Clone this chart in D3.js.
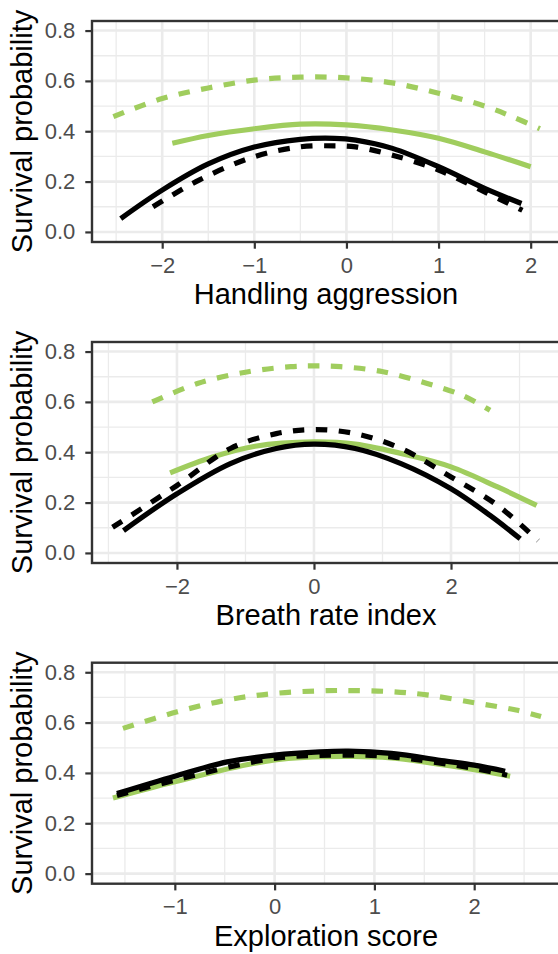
<!DOCTYPE html>
<html>
<head>
<meta charset="utf-8">
<script src="https://cdn.jsdelivr.net/npm/d3@7"></script>
<style>
body { margin: 0; background: #fff; overflow: hidden; }
svg { display: block; }
</style>
</head>
<body>
<div id="chart"></div>
<script>
const width = 558
const height = 954
const panelLeft = 92
const panelRight = 562
const panelTops = [21, 342, 662.7]
const panelHeight = 221

const green = "#a0cd5e"
const fontFamily = "'Liberation Sans', Arial, sans-serif"

const titles = ["Handling aggression", "Breath rate index", "Exploration score"]
const xLimits = [[-2.762, 2.34], [-3.24, 3.62], [-1.83, 2.88]]
const xTicks = [[-2, -1, 0, 1, 2], [-2, 0, 2], [-1, 0, 1, 2]]
const xMinor = [[-2.5, -1.5, -0.5, 0.5, 1.5], [-3, -1, 1, 3], [-1.5, -0.5, 0.5, 1.5, 2.5]]
const yLimits = [-0.04, 0.838]
const yTicks = [0, 0.2, 0.4, 0.6, 0.8]
const yMinor = [0.1, 0.3, 0.5, 0.7]

// handling aggression
const handlingGreenSolid = [[-1.89, 0.352], [-1.5, 0.383], [-1.0, 0.41], [-0.5, 0.428], [0, 0.425], [0.5, 0.405], [1.0, 0.372], [1.5, 0.318], [2.0, 0.259]]
const handlingGreenDashed = [[-2.53, 0.458], [-2.0, 0.53], [-1.5, 0.572], [-1.0, 0.603], [-0.5, 0.615], [0, 0.612], [0.5, 0.592], [1.0, 0.551], [1.5, 0.5], [1.8, 0.458], [2.1, 0.41]]
const handlingBlackSolid = [[-2.45, 0.053], [-2.0, 0.166], [-1.5, 0.27], [-1.0, 0.337], [-0.5, 0.368], [-0.13, 0.372], [0.1, 0.365], [0.5, 0.332], [1.0, 0.259], [1.5, 0.173], [1.9, 0.113]]
const handlingBlackDashed = [[-2.1, 0.1], [-1.6, 0.206], [-1.0, 0.299], [-0.5, 0.338], [-0.13, 0.342], [0.1, 0.338], [0.5, 0.305], [1.0, 0.246], [1.5, 0.159], [1.91, 0.086]]

// breath rate index
const breathGreenSolid = [[-2.1, 0.318], [-1.48, 0.381], [-0.86, 0.424], [0, 0.441], [0.6, 0.432], [1.38, 0.388], [2.0, 0.342], [2.68, 0.262], [3.25, 0.189]]
const breathGreenDashed = [[-2.36, 0.6], [-1.69, 0.674], [-0.96, 0.72], [-0.34, 0.74], [0, 0.743], [0.39, 0.74], [1.01, 0.72], [1.64, 0.674], [2.16, 0.627], [2.57, 0.567]]
const breathBlackSolid = [[-2.78, 0.089], [-2.0, 0.235], [-1.22, 0.355], [-0.55, 0.415], [0, 0.432], [0.6, 0.415], [1.27, 0.355], [2.0, 0.255], [2.57, 0.149], [3.01, 0.056]]
const breathBlackDashed = [[-2.94, 0.102], [-2.0, 0.268], [-1.22, 0.415], [-0.55, 0.474], [0, 0.49], [0.6, 0.474], [1.27, 0.415], [2.0, 0.302], [2.68, 0.189], [3.27, 0.049]]

// exploration score
const exploreGreenSolid = [[-1.62, 0.3], [-1.0, 0.365], [0, 0.452], [0.74, 0.466], [1.17, 0.46], [2.0, 0.413], [2.36, 0.387]]
const exploreGreenDashed = [[-1.52, 0.577], [-0.975, 0.643], [-0.475, 0.69], [0, 0.716], [0.525, 0.727], [0.81, 0.727], [1.17, 0.723], [1.525, 0.71], [2.0, 0.679], [2.42, 0.65], [2.67, 0.624]]
const exploreBlackSolid = [[-1.58, 0.318], [-1.0, 0.387], [-0.475, 0.444], [0, 0.471], [0.45, 0.484], [0.74, 0.487], [1.17, 0.478], [1.7, 0.448], [2.0, 0.431], [2.31, 0.407]]
const exploreBlackDashed = [[-1.58, 0.31], [-1.0, 0.371], [0, 0.458], [0.74, 0.471], [1.17, 0.464], [2.0, 0.418], [2.33, 0.391]]

const panelSeries = [
    [handlingGreenSolid, handlingGreenDashed, handlingBlackSolid, handlingBlackDashed],
    [breathGreenSolid, breathGreenDashed, breathBlackSolid, breathBlackDashed],
    [exploreGreenSolid, exploreGreenDashed, exploreBlackSolid, exploreBlackDashed],
]
const seriesColor = [green, green, "black", "black"]
const seriesDashed = [false, true, false, true]

const svg = d3.select("div#chart").append("svg").attr("width", width).attr("height", height)

titles.forEach((title, i) => {
    const top = panelTops[i]
    const bottom = top + panelHeight

    const x = d3.scaleLinear().domain(xLimits[i]).range([panelLeft, panelRight])
    const y = d3.scaleLinear().domain(yLimits).range([bottom, top])

    const panel = svg.append("g").attr("class", "panel")

    svg.append("clipPath").attr("id", `clip${i}`)
        .append("rect")
        .attr("x", panelLeft).attr("y", top)
        .attr("width", panelRight - panelLeft).attr("height", panelHeight)

    const grid = panel.append("g").attr("class", "grid").attr("stroke", "#ebebeb")
    grid.selectAll("line.minorX").data(xMinor[i]).enter().append("line")
        .attr("x1", d => x(d)).attr("x2", d => x(d)).attr("y1", top).attr("y2", bottom)
        .attr("stroke-width", 1.3)
    grid.selectAll("line.minorY").data(yMinor).enter().append("line")
        .attr("x1", panelLeft).attr("x2", panelRight).attr("y1", d => y(d)).attr("y2", d => y(d))
        .attr("stroke-width", 1.3)
    grid.selectAll("line.majorX").data(xTicks[i]).enter().append("line")
        .attr("x1", d => x(d)).attr("x2", d => x(d)).attr("y1", top).attr("y2", bottom)
        .attr("stroke-width", 2.6)
    grid.selectAll("line.majorY").data(yTicks).enter().append("line")
        .attr("x1", panelLeft).attr("x2", panelRight).attr("y1", d => y(d)).attr("y2", d => y(d))
        .attr("stroke-width", 2.6)

    const line = d3.line()
        .x(d => x(d[0]))
        .y(d => y(d[1]))
        .curve(d3.curveCatmullRom)

    panel.append("g").attr("clip-path", `url(#clip${i})`)
        .selectAll("path").data(panelSeries[i]).enter()
        .append("path")
        .attr("d", line)
        .attr("fill", "none")
        .attr("stroke", (d, j) => seriesColor[j])
        .attr("stroke-width", 5.2)
        .attr("stroke-dasharray", (d, j) => seriesDashed[j] ? "11.5 11.5" : null)

    panel.append("rect")
        .attr("x", panelLeft).attr("y", top)
        .attr("width", panelRight - panelLeft).attr("height", panelHeight)
        .attr("fill", "none").attr("stroke", "#333333").attr("stroke-width", 2.4)

    const xAxis = d3.axisBottom(x).tickValues(xTicks[i]).tickSize(6.7).tickPadding(8.4).tickSizeOuter(0)
        .tickFormat(d3.format("d"))
    const yAxis = d3.axisLeft(y).tickValues(yTicks).tickSize(6.7).tickPadding(10).tickSizeOuter(0)
        .tickFormat(d3.format(".1f"))

    const xAxisGroup = panel.append("g").attr("transform", `translate(0, ${bottom})`).call(xAxis)
    const yAxisGroup = panel.append("g").attr("transform", `translate(${panelLeft}, 0)`).call(yAxis)

    ;[xAxisGroup, yAxisGroup].forEach(g => {
        g.select(".domain").remove()
        g.attr("font-family", fontFamily).attr("font-size", 22)
        g.selectAll(".tick line").attr("stroke", "#333333").attr("stroke-width", 2.2)
        g.selectAll(".tick text").attr("fill", "#4d4d4d")
    })

    panel.append("text")
        .attr("x", (panelLeft + panelRight) / 2 - 1)
        .attr("y", bottom + 62)
        .attr("text-anchor", "middle")
        .attr("font-family", fontFamily)
        .attr("font-size", 29)
        .text(title)

    panel.append("text")
        .attr("transform", `translate(31.5, ${(top + bottom) / 2}) rotate(-90)`)
        .attr("text-anchor", "middle")
        .attr("font-family", fontFamily)
        .attr("font-size", 29)
        .text("Survival probability")
})
</script>
</body>
</html>
